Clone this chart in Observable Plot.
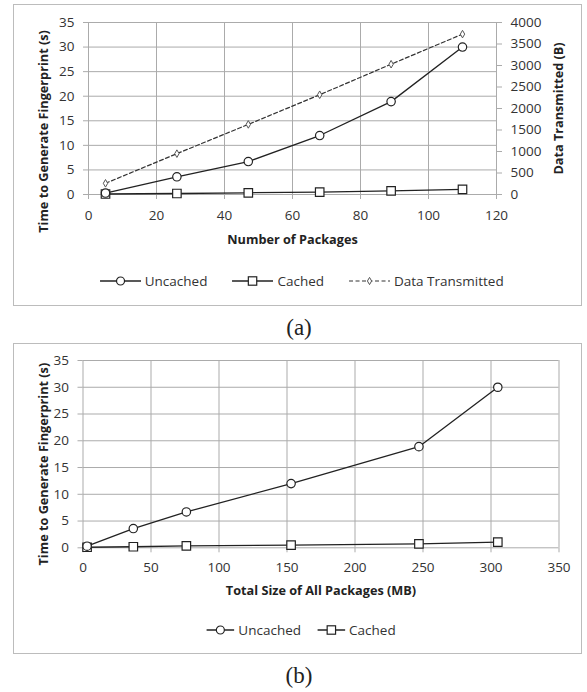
<!DOCTYPE html>
<html><head><meta charset="utf-8">
<script src="https://cdn.jsdelivr.net/npm/d3@7"></script>
<script src="https://cdn.jsdelivr.net/npm/@observablehq/plot@0.6"></script>
<style>
html,body{margin:0;padding:0;background:#fff;}
#page{position:relative;width:587px;height:692px;overflow:hidden;font-family:"Open Sans",sans-serif;}
.box{position:absolute;border:1.5px solid #bcbcbc;box-sizing:border-box;}
.chart{position:absolute;left:0;}
.chart svg{display:block;overflow:visible;}
.legend{position:absolute;display:flex;align-items:center;transform:translate(-50%,-50%);white-space:nowrap;font-size:13.5px;color:#333;}
.legend .item{display:flex;align-items:center;}
.legend svg{display:block;}
.caption{position:absolute;transform:translate(-50%,-50%);font-family:"Liberation Serif","DejaVu Serif",serif;font-size:23px;color:#222;line-height:1;}
</style></head>
<body><div id="page">
<div class="box" style="left:13px;top:4px;width:569px;height:302px"></div>
<div class="box" style="left:13px;top:342.5px;width:569px;height:311px"></div>
<div id="chartA" class="chart" style="top:0"></div>
<div id="chartB" class="chart" style="top:340px"></div>
<div id="legendA" class="legend" style="left:301.7px;top:280.7px"></div>
<div id="legendB" class="legend" style="left:301px;top:630px"></div>
<div class="caption" style="left:299px;top:327px">(a)</div>
<div class="caption" style="left:299px;top:675px">(b)</div>
</div>
<script>
// ---- data ----
const packages = [5, 26, 47, 68, 89, 110];
const totalSizeMB = [3, 37, 76, 153, 247, 305];
const uncachedTime = [0.3, 3.6, 6.7, 12.0, 18.9, 30.0];
const cachedTime = [0.1, 0.2, 0.35, 0.5, 0.75, 1.05];
const dataTransmittedB = [260, 950, 1630, 2320, 3030, 3730];

const xTicksA = [0, 20, 40, 60, 80, 100, 120];
const xTicksB = [0, 50, 100, 150, 200, 250, 300, 350];
const yTicks = [0, 5, 10, 15, 20, 25, 30, 35];
const rightTicks = [0, 500, 1000, 1500, 2000, 2500, 3000, 3500, 4000];

const seriesNames = ["Uncached", "Cached", "Data Transmitted"];
const xTitleA = "Number of Packages";
const xTitleB = "Total Size of All Packages (MB)";
const yTitle = "Time to Generate Fingerprint (s)";
const rightTitle = "Data Transmitted (B)";

// ---- helpers ----
const yMax = 35, rightMax = 4000;
const toLeft = v => v * yMax / rightMax;

const rowsA = packages.map((x, i) => ({x, uncached: uncachedTime[i], cached: cachedTime[i], dt: toLeft(dataTransmittedB[i])}));
const rowsB = totalSizeMB.map((x, i) => ({x, uncached: uncachedTime[i], cached: cachedTime[i]}));

const GRID = "#ababab", INK = "#222", TICKTXT = "#333", TITLE = "#222";
const style = {fontFamily: "'Open Sans', sans-serif", fontSize: "13.5px", color: TICKTXT, background: "none", overflow: "visible"};
const titleOpts = {fontWeight: "bold", fontSize: 12.7, fill: TITLE, textAnchor: "middle", lineAnchor: "middle"};

function seriesMarks(rows, withDT) {
  const m = [];
  if (withDT) {
    m.push(Plot.line(rows, {x: "x", y: "dt", stroke: "#333", strokeWidth: 1.2, strokeDasharray: "4,2.5"}));
    m.push(Plot.dot(rows, {x: "x", y: "dt", symbol: "diamond", r: 2.3, stroke: "#555", fill: "white", strokeWidth: 1}));
  }
  m.push(Plot.line(rows, {x: "x", y: "cached", stroke: INK, strokeWidth: 1.3}));
  m.push(Plot.line(rows, {x: "x", y: "uncached", stroke: INK, strokeWidth: 1.3}));
  m.push(Plot.dot(rows, {x: "x", y: "cached", symbol: "square", r: 4.8, stroke: INK, fill: "white", strokeWidth: 1.2}));
  m.push(Plot.dot(rows, {x: "x", y: "uncached", symbol: "circle", r: 4.2, stroke: INK, fill: "white", strokeWidth: 1.2}));
  return m;
}

// ---- chart (a) ----
const chartA = Plot.plot({
  width: 587, height: 250,
  marginTop: 22, marginBottom: 56, marginLeft: 88, marginRight: 91,
  x: {domain: [0, 120]}, y: {domain: [0, 35]},
  style,
  marks: [
    Plot.gridX(xTicksA, {stroke: GRID, strokeOpacity: 1}),
    Plot.gridY(yTicks, {stroke: GRID, strokeOpacity: 1}),
    Plot.axisX(xTicksA, {tickSize: 5, tickPadding: 11, stroke: GRID, fill: TICKTXT, label: null}),
    Plot.axisY(yTicks, {tickSize: 5, tickPadding: 9, stroke: GRID, fill: TICKTXT, label: null}),
    Plot.axisY(rightTicks.map(toLeft), {anchor: "right", tickSize: 5, tickPadding: 9, stroke: GRID, fill: TICKTXT, label: null, tickFormat: d => String(Math.round(d * rightMax / yMax))}),
    ...seriesMarks(rowsA, true),
    Plot.text([xTitleA], {frameAnchor: "bottom", dy: 45.5, ...titleOpts}),
    Plot.text([yTitle], {frameAnchor: "left", rotate: -90, dx: -44.7, dy: 23, ...titleOpts}),
    Plot.text([rightTitle], {frameAnchor: "right", rotate: -90, dx: 62, ...titleOpts})
  ]
});
document.getElementById("chartA").appendChild(chartA);

// ---- chart (b) ----
const chartB = Plot.plot({
  width: 587, height: 270,
  marginTop: 20, marginBottom: 62.7, marginLeft: 82.5, marginRight: 28.5,
  x: {domain: [0, 350]}, y: {domain: [0, 35]},
  style,
  marks: [
    Plot.gridX(xTicksB, {stroke: GRID, strokeOpacity: 1}),
    Plot.gridY(yTicks, {stroke: GRID, strokeOpacity: 1}),
    Plot.axisX(xTicksB, {tickSize: 5, tickPadding: 10, stroke: GRID, fill: TICKTXT, label: null}),
    Plot.axisY(yTicks, {tickSize: 5, tickPadding: 9, stroke: GRID, fill: TICKTXT, label: null}),
    ...seriesMarks(rowsB, false),
    Plot.text([xTitleB], {frameAnchor: "bottom", dy: 43.2, ...titleOpts}),
    Plot.text([yTitle], {frameAnchor: "left", rotate: -90, dx: -39.5, dy: 10, ...titleOpts})
  ]
});
document.getElementById("chartB").appendChild(chartB);

// ---- legends ----
function symbolSvg(kind, w) {
  const h = 12, cy = h / 2, cx = w / 2;
  let s = `<svg width="${w}" height="${h}" viewBox="0 0 ${w} ${h}">`;
  if (kind === "dt") {
    s += `<line x1="0" y1="${cy}" x2="${w}" y2="${cy}" stroke="#333" stroke-width="1.2" stroke-dasharray="4,2.5"/>`;
    s += `<path d="M${cx},${cy - 3.6}L${cx + 2.1},${cy}L${cx},${cy + 3.6}L${cx - 2.1},${cy}Z" fill="white" stroke="#555" stroke-width="1"/>`;
  } else {
    s += `<line x1="0" y1="${cy}" x2="${w}" y2="${cy}" stroke="${INK}" stroke-width="1.3"/>`;
    if (kind === "circle") s += `<circle cx="${cx}" cy="${cy}" r="4" fill="white" stroke="${INK}" stroke-width="1.2"/>`;
    else s += `<rect x="${cx - 4.2}" y="${cy - 4.2}" width="8.4" height="8.4" fill="white" stroke="${INK}" stroke-width="1.2"/>`;
  }
  return s + `</svg>`;
}
function buildLegend(id, items, symW, gap) {
  const el = document.getElementById(id);
  items.forEach((it, i) => {
    const d = document.createElement("div");
    d.className = "item";
    d.style.marginRight = i < items.length - 1 ? gap + "px" : "0";
    d.innerHTML = symbolSvg(it.kind, symW) + `<span style="margin-left:4px">${it.label}</span>`;
    el.appendChild(d);
  });
}
buildLegend("legendA", [
  {kind: "circle", label: seriesNames[0]},
  {kind: "square", label: seriesNames[1]},
  {kind: "dt", label: seriesNames[2]}
], 41, 25);
buildLegend("legendB", [
  {kind: "circle", label: seriesNames[0]},
  {kind: "square", label: seriesNames[1]}
], 28, 16);
</script>
</body></html>
